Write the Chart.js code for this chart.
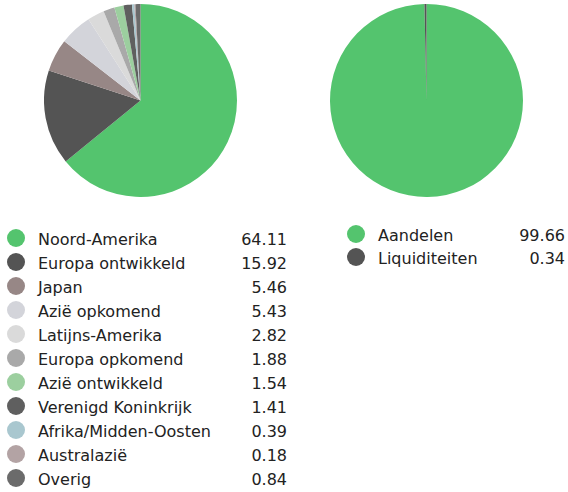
<!DOCTYPE html>
<html>
<head>
<meta charset="utf-8">
<script src="https://cdn.jsdelivr.net/npm/chart.js@4.4.1/dist/chart.umd.min.js"></script>
<style>
  html, body { margin: 0; padding: 0; background: #ffffff; }
  body { width: 568px; height: 492px; position: relative; overflow: hidden;
         font-family: "DejaVu Sans", sans-serif; color: #222; }
  .pie { position: absolute; top: 4px; width: 193px; height: 193px; }
  .row { position: absolute; height: 24px; line-height: 24px; font-size: 16px; white-space: nowrap; }
  .dot { position: absolute; width: 18px; height: 18px; border-radius: 50%; top: 2px; }
  .lbl { position: absolute; top: 1px; }
  .val { position: absolute; top: 1px; text-align: right; }
</style>
</head>
<body>
<div class="pie" style="left:44px"><canvas id="c1" width="193" height="193"></canvas></div>
<div class="pie" style="left:330px"><canvas id="c2" width="193" height="193"></canvas></div>
<div id="leg1"></div>
<div id="leg2"></div>
<script>
const regionLabels = ["Noord-Amerika","Europa ontwikkeld","Japan","Azië opkomend","Latijns-Amerika","Europa opkomend","Azië ontwikkeld","Verenigd Koninkrijk","Afrika/Midden-Oosten","Australazië","Overig"];
const regionValues = [64.11,15.92,5.46,5.43,2.82,1.88,1.54,1.41,0.39,0.18,0.84];
const regionColors = ["#54c46e","#545454","#978786","#d3d4da","#dadada","#a9a9a9","#9ccf9f","#5f5f5f","#a9c7cf","#b3a3a4","#6b6b6b"];
const assetLabels = ["Aandelen","Liquiditeiten"];
const assetValues = [99.66,0.34];
const assetColors = ["#54c46e","#545454"];

function makePie(id, labels, values, colors) {
  new Chart(document.getElementById(id), {
    type: 'pie',
    data: { labels: labels, datasets: [{ data: values, backgroundColor: colors, borderWidth: 0 }] },
    options: {
      responsive: false, animation: false,
      layout: { padding: 0 },
      plugins: { legend: { display: false }, tooltip: { enabled: false } }
    }
  });
}
makePie('c1', regionLabels, regionValues, regionColors);
makePie('c2', assetLabels, assetValues, assetColors);

function makeLegend(id, labels, values, colors, cfg) {
  const host = document.getElementById(id);
  labels.forEach((lab, i) => {
    const row = document.createElement('div');
    row.className = 'row';
    row.style.left = '0px';
    row.style.width = '568px';
    row.style.top = (cfg.top + i * cfg.step - 11) + 'px';
    const dot = document.createElement('div');
    dot.className = 'dot';
    dot.style.left = (cfg.dotX - 9) + 'px';
    dot.style.background = colors[i];
    const l = document.createElement('div');
    l.className = 'lbl';
    l.style.left = cfg.textX + 'px';
    l.textContent = lab;
    const v = document.createElement('div');
    v.className = 'val';
    v.style.right = (568 - cfg.valRight) + 'px';
    v.textContent = values[i].toFixed(2);
    row.appendChild(dot); row.appendChild(l); row.appendChild(v);
    host.appendChild(row);
  });
}
makeLegend('leg1', regionLabels, regionValues, regionColors, { top: 238, step: 24, dotX: 16, textX: 38, valRight: 287 });
makeLegend('leg2', assetLabels, assetValues, assetColors, { top: 234, step: 23, dotX: 356, textX: 378, valRight: 565 });
</script>
</body>
</html>
